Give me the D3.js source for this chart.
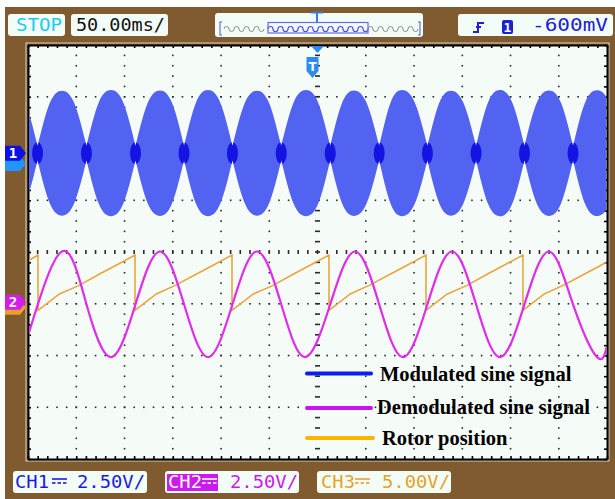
<!DOCTYPE html>
<html>
<head>
<meta charset="utf-8">
<script src="https://cdn.jsdelivr.net/npm/d3@7/dist/d3.min.js"></script>
<style>
  html, body { margin: 0; padding: 0; background: #ffffff; }
  svg { display: block; }
</style>
</head>
<body>
<svg id="scope" width="615" height="499"></svg>
<script>
// ---- acquisition settings ----
const timeDomainMs = [0, 600];          // 12 divisions at 50 ms/div
const voltsPerDiv = [2.5, 2.5, 5.0];    // CH1, CH2, CH3
const channelOffsetDiv = [1.91, -1.01, -1.05];

// ---- CH1: modulated carrier, envelope waists, shoulders and crests ----
const ch1NodeTimes = [-40.5, 9.9, 60.6, 111.4, 161.7, 211.9, 262.4, 313.2, 363.9, 413.9, 464.3, 514.5, 564.8, 615.2];
const ch1NodeVolts = [0.34, 0.34, 0.34, 0.34, 0.34, 0.34, 0.34, 0.34, 0.34, 0.34, 0.34, 0.34, 0.34, 0.34];
const ch1PeakTimes = [-15.2, 35.2, 86.0, 136.8, 186.5, 237.3, 288.1, 337.8, 387.6, 438.3, 489.1, 539.9, 589.6];
const ch1PeakVolts = [3.00, 3.02, 3.05, 3.03, 3.05, 3.02, 3.05, 3.03, 3.05, 3.02, 3.05, 3.03, 3.04];
const ch1ShoulderVolts = [2.40, 2.42, 2.45, 2.43, 2.45, 2.42, 2.45, 2.43, 2.45, 2.42, 2.45, 2.43, 2.44];

// ---- CH2: demodulated sine (crests, crossings, troughs) ----
const ch2Times = [0, 35.2, 60.6, 86.0, 111.4, 136.8, 161.7, 186.5, 211.9, 237.3, 262.4, 287.0,
                  313.2, 338.9, 363.9, 388.6, 413.9, 439.4, 464.3, 489.1, 514.5, 540.0, 564.8, 589.6, 600];
const ch2Volts = [-1.52, 2.55, 0, -2.55, 0, 2.55, 0, -2.55, 0, 2.55, 0, -2.55,
                  0, 2.55, 0, -2.55, 0, 2.55, 0, -2.55, 0, 2.55, 0, -2.55, -2.0];

// ---- CH3: rotor position sawtooth ----
const ch3Times = [0, 10.4, 10.4, 32.5, 52.6, 73.7, 91.8, 110.9, 110.9, 133.0, 153.1, 174.2, 192.3,
                  211.4, 211.4, 233.5, 253.6, 274.7, 292.8, 311.9, 311.9, 334.0, 354.1, 375.2, 393.3,
                  412.4, 412.4, 434.5, 454.6, 475.7, 493.8, 512.9, 512.9, 535.0, 555.1, 576.2, 594.3, 600];
const ch3Volts = [4.40, 4.95, -0.40, 1.20, 2.00, 3.10, 4.00, 4.95, -0.40, 1.20, 2.05, 3.10, 4.00,
                  4.95, -0.40, 1.20, 2.00, 3.10, 4.00, 4.95, -0.40, 1.20, 2.05, 3.10, 4.00,
                  4.95, -0.40, 1.20, 2.00, 3.10, 4.00, 4.95, -0.40, 1.20, 2.05, 3.10, 4.00, 4.30];

// ---- legend ----
const legendLabels = ["Modulated sine signal", "Demodulated sine signal", "Rotor position"];
const legendColors = ["#0a1ef0", "#c814f0", "#ffb400"];

// ---- readouts ----
const timebaseLabel = "50.00ms/";
const runStateLabel = "STOP";
const triggerLevelLabel = "-600mV";
const channelLabels = ["CH1", "CH2", "CH3"];
const scaleLabels = ["2.50V/", "2.50V/", "5.00V/"];

// ---------------------------------------------------------------
const svg = d3.select("#scope");
const W = 615, H = 499;
const plot = { left: 28, right: 607, top: 45, bottom: 459 };
const mono = "'DejaVu Sans Mono', 'Liberation Mono', monospace";

const x = d3.scaleLinear().domain(timeDomainMs).range([plot.left, plot.right]);
const yDiv = d3.scaleLinear().domain([-4, 4]).range([plot.bottom, plot.top]);
const yCh = (ch, v) => yDiv(channelOffsetDiv[ch] + v / voltsPerDiv[ch]);

// frame
svg.append("rect").attr("width", W).attr("height", H).attr("fill", "#7f5b2f");
svg.append("rect").attr("width", W).attr("height", 7).attr("fill", "#ffffff");
svg.append("rect").attr("width", 5).attr("height", H).attr("fill", "#ffffff");

// screen
svg.append("rect")
  .attr("x", plot.left - 2).attr("y", plot.top - 2)
  .attr("width", plot.right - plot.left + 4).attr("height", plot.bottom - plot.top + 4)
  .attr("fill", "none").attr("stroke", "#d9d2c2").attr("stroke-width", 1);
svg.append("rect")
  .attr("x", plot.left).attr("y", plot.top)
  .attr("width", plot.right - plot.left).attr("height", plot.bottom - plot.top)
  .attr("fill", "#f5fbf7");

// graticule dots
const minorT = d3.range(0, 601, 10);
const minorV = d3.range(-4, 4.001, 0.2);
const majorT = d3.range(50, 600, 50).filter(t => t !== 300);
const majorV = d3.range(-3, 4, 1).filter(v => v !== 0);
const grid = svg.append("g").attr("fill", "#2b2b2b");
majorT.forEach(t => {
  minorV.slice(1, -1).forEach(v => {
    grid.append("rect").attr("x", x(t) - 0.75).attr("y", yDiv(v) - 0.75).attr("width", 1.6).attr("height", 1.6);
  });
});
majorV.forEach(v => {
  minorT.slice(1, -1).forEach(t => {
    grid.append("rect").attr("x", x(t) - 0.75).attr("y", yDiv(v) - 0.75).attr("width", 1.6).attr("height", 1.6);
  });
});
// centre axes with tick dashes
minorT.slice(1, -1).forEach(t => {
  grid.append("rect").attr("x", x(t) - 0.8).attr("y", yDiv(0) - 2).attr("width", 1.6).attr("height", 4);
});
minorV.slice(1, -1).forEach(v => {
  grid.append("rect").attr("x", x(300) - 2.5).attr("y", yDiv(v) - 0.8).attr("width", 5).attr("height", 1.6);
});

// border ticks via axes
const tickFmt = () => "";
function styleAxis(g) {
  g.selectAll("path.domain").attr("stroke", "#000").attr("stroke-width", 2);
  g.selectAll(".tick line").attr("stroke", "#000").attr("stroke-width", 1.6);
}
svg.append("g").attr("transform", `translate(0,${plot.top})`)
  .call(d3.axisTop(x).tickValues(minorT).tickSize(-3).tickSizeOuter(0).tickFormat(tickFmt)).call(styleAxis);
svg.append("g").attr("transform", `translate(0,${plot.bottom})`)
  .call(d3.axisBottom(x).tickValues(minorT).tickSize(-3).tickSizeOuter(0).tickFormat(tickFmt)).call(styleAxis);
svg.append("g").attr("transform", `translate(${plot.left},0)`)
  .call(d3.axisLeft(yDiv).tickValues(minorV).tickSize(-3).tickSizeOuter(0).tickFormat(tickFmt)).call(styleAxis);
svg.append("g").attr("transform", `translate(${plot.right},0)`)
  .call(d3.axisRight(yDiv).tickValues(minorV).tickSize(-3).tickSizeOuter(0).tickFormat(tickFmt)).call(styleAxis);

// clip for traces
const defs = svg.append("defs");
defs.append("clipPath").attr("id", "screenClip").append("rect")
  .attr("x", plot.left + 1).attr("y", plot.top + 1)
  .attr("width", plot.right - plot.left - 2).attr("height", plot.bottom - plot.top - 2);

const traces = svg.append("g").attr("clip-path", "url(#screenClip)");

// CH1 envelope lobes: waist, shoulder, crest, shoulder, waist
const lobes = ch1PeakTimes.map((tp, i) => {
  const t0 = ch1NodeTimes[i], t1 = ch1NodeTimes[i + 1];
  return [
    { t: t0, v: ch1NodeVolts[i] },
    { t: (t0 + tp) / 2, v: ch1ShoulderVolts[i] },
    { t: tp, v: ch1PeakVolts[i] },
    { t: (tp + t1) / 2, v: ch1ShoulderVolts[i] },
    { t: t1, v: ch1NodeVolts[i + 1] }
  ];
});
const lobeArea = d3.area()
  .x(d => x(d.t))
  .y0(d => yCh(0, -d.v))
  .y1(d => yCh(0, d.v))
  .curve(d3.curveNatural);
const lobeClip = defs.append("clipPath").attr("id", "lobeClip");
lobes.forEach(l => lobeClip.append("path").attr("d", lobeArea(l)));
traces.append("g").selectAll("path").data(lobes).join("path")
  .attr("d", lobeArea).attr("fill", "#5262f1");
// brighter trace where the envelope pinches
traces.append("g").attr("clip-path", "url(#lobeClip)")
  .selectAll("ellipse").data(ch1NodeTimes).join("ellipse")
  .attr("cx", d => x(d)).attr("cy", yCh(0, 0))
  .attr("rx", 5.5).attr("ry", 11).attr("fill", "#1414e2");

// CH3 rotor position
const ch3Data = ch3Times.map((t, i) => ({ t, v: ch3Volts[i] }));
traces.append("path")
  .attr("d", d3.line().x(d => x(d.t)).y(d => yCh(2, d.v))(ch3Data))
  .attr("fill", "none").attr("stroke", "#e8a640").attr("stroke-width", 1.6);

// CH2 demodulated sine
const ch2Data = ch2Times.map((t, i) => ({ t, v: ch2Volts[i] }));
traces.append("path")
  .attr("d", d3.line().x(d => x(d.t)).y(d => yCh(1, d.v)).curve(d3.curveNatural)(ch2Data))
  .attr("fill", "none").attr("stroke", "#e02ced").attr("stroke-width", 2.2);

// legend
const legend = svg.append("g");
const legendY = [373.5, 408, 438];
const legendBase = [381, 414, 445];
const legendTextX = [380, 377, 382];
legendLabels.forEach((lab, i) => {
  legend.append("line")
    .attr("x1", 307).attr("x2", i === 2 ? 373 : 371)
    .attr("y1", legendY[i]).attr("y2", legendY[i])
    .attr("stroke", legendColors[i]).attr("stroke-width", 4).attr("stroke-linecap", "round");
  legend.append("text")
    .attr("x", legendTextX[i]).attr("y", legendBase[i])
    .attr("font-family", "'Liberation Serif', 'Times New Roman', serif")
    .attr("font-weight", "bold").attr("font-size", 20.5).attr("fill", "#000")
    .text(lab);
});

// channel ground markers on the left
function marker(cy) {
  return `M5,${cy - 7.5} H20 L26,${cy} L20,${cy + 7.5} H5 Z`;
}
svg.append("path").attr("d", marker(yCh(0, -0.6) - 2)).attr("fill", "#2394fa");
svg.append("path").attr("d", marker(yCh(0, 0))).attr("fill", "#0c10e0");
svg.append("text").attr("x", 13).attr("y", yCh(0, 0) + 5).attr("text-anchor", "middle")
  .attr("font-family", mono).attr("font-weight", "bold").attr("font-size", 14).attr("fill", "#fff").text("1");
svg.append("path").attr("d", marker(yCh(2, 0) + 1)).attr("fill", "#e8a02a");
svg.append("path").attr("d", marker(yCh(1, 0) - 2)).attr("fill", "#d41ee8");
svg.append("text").attr("x", 13).attr("y", yCh(1, 0) + 3).attr("text-anchor", "middle")
  .attr("font-family", mono).attr("font-weight", "bold").attr("font-size", 14).attr("fill", "#fff").text("2");

// trigger position markers
const tx = x(300);
svg.append("path").attr("d", `M${tx - 6.5},${plot.top + 1} H${tx + 6.5} L${tx},${plot.top + 8} Z`).attr("fill", "#2a8cf2");
svg.append("path").attr("d", `M${tx - 11},57 H${tx + 1} V71 L${tx - 5},78 L${tx - 11},71 Z`).attr("fill", "#2a8cf2");
svg.append("text").attr("x", tx - 5).attr("y", 71).attr("text-anchor", "middle")
  .attr("font-family", "'DejaVu Sans', sans-serif").attr("font-weight", "bold").attr("font-size", 12).attr("fill", "#fff").text("T");

// readout boxes
function box(x0, y0, w, h) {
  return svg.append("rect").attr("x", x0).attr("y", y0).attr("width", w).attr("height", h)
    .attr("rx", 3).attr("fill", "#f3fdf8");
}
function readout(str, x0, y0, color, len) {
  const t = svg.append("text").attr("x", x0).attr("y", y0)
    .attr("font-family", mono).attr("font-size", 18).attr("fill", color).text(str);
  if (len) t.attr("textLength", len).attr("lengthAdjust", "spacingAndGlyphs");
  return t;
}
box(8, 14, 57, 22);
readout(runStateLabel, 16, 31, "#18cdf0", 46);
box(71, 14, 97, 22);
readout(timebaseLabel, 76, 31, "#111", 89);

// memory overview strip
box(215, 13, 208, 24);
const strip = svg.append("g");
strip.append("path").attr("d", "M222,22 h-2 v13 h2").attr("fill", "none").attr("stroke", "#7d8ee2").attr("stroke-width", 1.5);
strip.append("path").attr("d", "M418,22 h2 v13 h-2").attr("fill", "none").attr("stroke", "#7d8ee2").attr("stroke-width", 1.5);
function wavePath(x0, x1, y) {
  let d = `M${x0},${y}`;
  for (let xx = x0; xx + 10 <= x1; xx += 10) {
    d += ` a2.5,2.5 0 0 1 5,0 a2.5,2.5 0 0 0 5,0`;
  }
  return d;
}
strip.append("path").attr("d", wavePath(224, 268, 29)).attr("fill", "none").attr("stroke", "#8a8a8a").attr("stroke-width", 1);
strip.append("path").attr("d", wavePath(368, 418, 29)).attr("fill", "none").attr("stroke", "#8a8a8a").attr("stroke-width", 1);
strip.append("path").attr("d", wavePath(268, 368, 29)).attr("fill", "none").attr("stroke", "#4c4ce8").attr("stroke-width", 1.2);
strip.append("rect").attr("x", 268).attr("y", 22.5).attr("width", 100).attr("height", 10.5)
  .attr("fill", "none").attr("stroke", "#6a6ae8").attr("stroke-width", 1.2);
strip.append("path").attr("d", "M311,12.5 H323 M317,12.5 V23").attr("stroke", "#3a7ae8").attr("stroke-width", 2);

// trigger readout
box(458, 14, 155, 22);
svg.append("path").attr("d", "M473,32 h5 v-9 h6 M476,27 h5").attr("fill", "none").attr("stroke", "#1a22d2").attr("stroke-width", 2);
svg.append("rect").attr("x", 502).attr("y", 20).attr("width", 11).attr("height", 14).attr("rx", 2).attr("fill", "#1a22d2");
svg.append("text").attr("x", 507.5).attr("y", 32).attr("text-anchor", "middle")
  .attr("font-family", mono).attr("font-weight", "bold").attr("font-size", 13).attr("fill", "#fff").text("1");
readout(triggerLevelLabel, 532, 31, "#1a22d2", 76);

// channel scale readouts
const chBoxX = [13, 165, 317];
const chColors = ["#1a1ae6", "#cc1aee", "#e6a22a"];
const chNameX = [15, 168, 321];
const chSymX = [52, 202, 355];
const chValX = [77, 230, 382];
chBoxX.forEach((bx, i) => {
  box(bx, 471, 134, 22);
  const inverted = i === 1;
  if (inverted) {
    svg.append("rect").attr("x", 167).attr("y", 474).attr("width", 51).attr("height", 17).attr("fill", chColors[i]);
  }
  const fg = inverted ? "#ffffff" : chColors[i];
  readout(channelLabels[i], chNameX[i], 488, fg, 34);
  // DC coupling symbol
  svg.append("line").attr("x1", chSymX[i]).attr("x2", chSymX[i] + 15).attr("y1", 479).attr("y2", 479)
    .attr("stroke", fg).attr("stroke-width", 1.6);
  [0, 5.5, 11].forEach(dx => {
    svg.append("line").attr("x1", chSymX[i] + dx).attr("x2", chSymX[i] + dx + 3.5).attr("y1", 483).attr("y2", 483)
      .attr("stroke", fg).attr("stroke-width", 1.6);
  });
  readout(scaleLabels[i], chValX[i], 488, chColors[i], 68);
});
</script>
</body>
</html>
